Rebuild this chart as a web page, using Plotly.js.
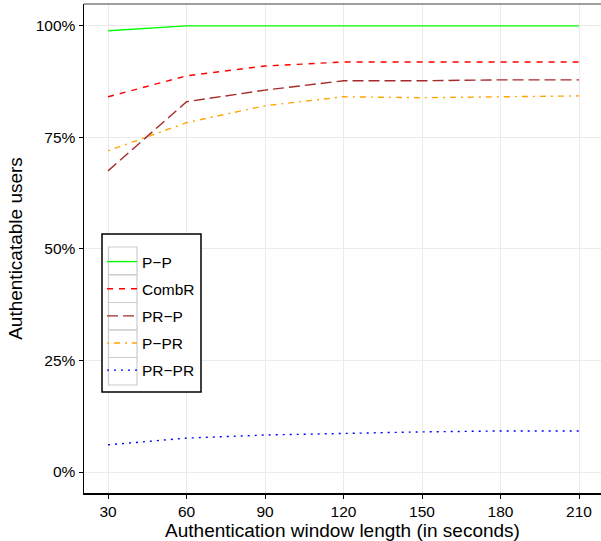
<!DOCTYPE html>
<html>
<head>
<meta charset="utf-8">
<script src="https://cdn.plot.ly/plotly-3.0.1.min.js"></script>
<style>html,body{margin:0;padding:0;background:#fff;}#chart{width:601px;height:541px;}</style>
</head>
<body>
<div id="chart"></div>
<script>
var windows = [30, 60, 90, 120, 150, 180, 210];
var seriesNames = ["P\u2212P", "CombR", "PR\u2212P", "P\u2212PR", "PR\u2212PR"];
var ppVals    = [0.989, 1.000, 1.000, 1.000, 1.000, 1.000, 1.000];
var combrVals = [0.841, 0.888, 0.910, 0.919, 0.919, 0.919, 0.919];
var prpVals   = [0.675, 0.830, 0.856, 0.877, 0.877, 0.879, 0.879];
var pprVals   = [0.720, 0.783, 0.821, 0.841, 0.839, 0.841, 0.843];
var prprVals  = [0.061, 0.076, 0.083, 0.087, 0.090, 0.092, 0.092];
var tickVals = [0, 0.25, 0.5, 0.75, 1];
var tickText = ["0%", "25%", "50%", "75%", "100%"];

var allVals = [ppVals, combrVals, prpVals, pprVals, prprVals];
var colors = ["#00FF00", "#FF0000", "#A52A2A", "#FFA500", "#0000FF"];
var dashes = ["solid", "6px,6px", "11px,5px", "2px,5px,6px,5px", "2px,5px"];

var traces = allVals.map(function (v, i) {
  return {
    x: windows, y: v, type: "scatter", mode: "lines",
    name: seriesNames[i], legendgroup: "g" + i,
    line: {color: colors[i], width: 1.4, dash: dashes[i]}
  };
});

// pixel -> paper helpers for legend decoration
var L = 84, T = 4, W = 517, H = 489;
function px(x) { return (x - L) / W; }
function py(y) { return (T + H - y) / H; }

var shapes = [
  {type: "line", xref: "paper", yref: "paper", x0: 0, x1: 1, y0: 1, y1: 1,
   line: {color: "#7F7F7F", width: 1.5}},
  {type: "rect", xref: "paper", yref: "paper", layer: "above",
   x0: px(102), x1: px(201), y0: py(234), y1: py(392),
   fillcolor: "#fff", line: {color: "#000", width: 1.5}}
];
var boxTops = [247, 275, 302.5, 330, 357.5];
boxTops.forEach(function (t) {
  shapes.push({type: "rect", xref: "paper", yref: "paper", layer: "above",
    x0: px(108.5), x1: px(137), y0: py(t), y1: py(t + 27.5),
    fillcolor: "rgba(0,0,0,0)", line: {color: "#CCCCCC", width: 1.2}});
});

var layout = {
  width: 601, height: 541,
  margin: {l: 84, r: 0, t: 4, b: 48},
  paper_bgcolor: "#fff", plot_bgcolor: "#fff",
  font: {family: "Liberation Sans, Arial, sans-serif", color: "#000", size: 15.5},
  xaxis: {
    range: [20.8, 218.4], tickvals: windows, ticktext: windows.map(String),
    showgrid: true, gridcolor: "#EBEBEB", gridwidth: 1, zeroline: false,
    showline: true, linecolor: "#000", linewidth: 1.5,
    ticks: "outside", ticklen: 4, tickcolor: "#000", tickwidth: 1,
    tickfont: {size: 15.5, color: "#000"},
    title: {text: "Authentication window length (in seconds)", font: {size: 19, color: "#000"}, standoff: 2}
  },
  yaxis: {
    range: [-0.047, 1.049], tickvals: tickVals, ticktext: tickText,
    showgrid: true, gridcolor: "#EBEBEB", gridwidth: 1, zeroline: false,
    showline: true, linecolor: "#000", linewidth: 1.5,
    ticks: "outside", ticklen: 4, tickcolor: "#000", tickwidth: 1,
    tickfont: {size: 15.5, color: "#000"},
    title: {text: "Authenticatable users", font: {size: 19, color: "#000"}, standoff: 8}
  },
  showlegend: true,
  legend: {
    x: px(102), y: py(245), xanchor: "left", yanchor: "top",
    bgcolor: "rgba(0,0,0,0)", borderwidth: 0,
    font: {size: 15.5, color: "#000"}, tracegroupgap: 4, itemwidth: 30
  },
  shapes: shapes
};

Plotly.newPlot("chart", traces, layout, {displayModeBar: false, staticPlot: true});
</script>
</body>
</html>
